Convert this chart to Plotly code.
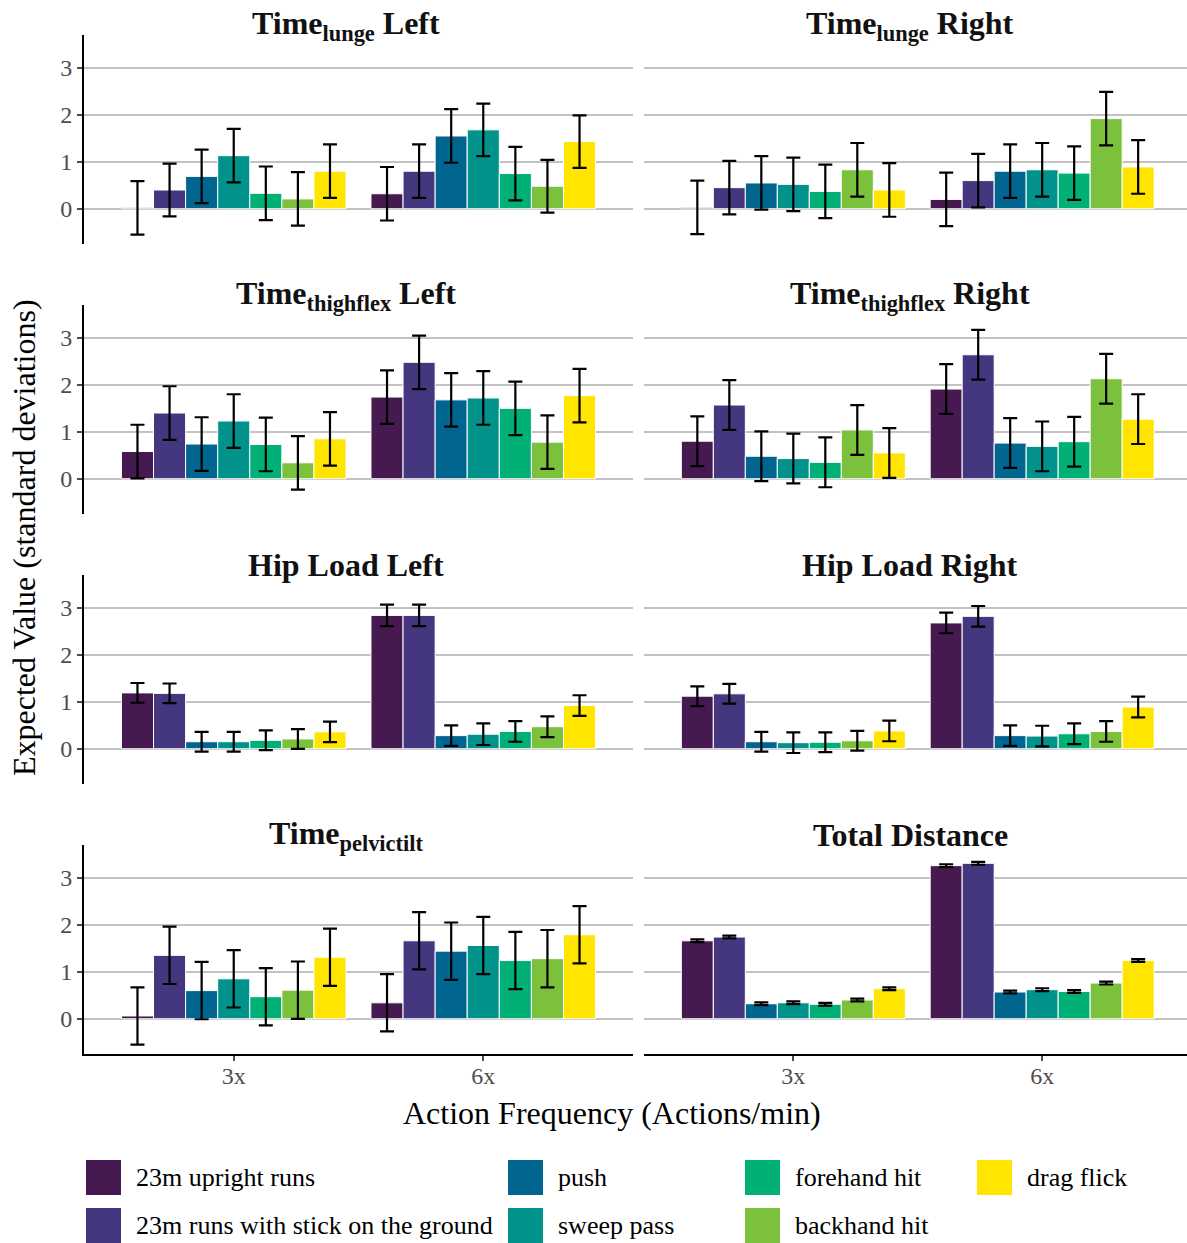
import plotly.graph_objects as go
from plotly.subplots import make_subplots

W, H = 1187, 1243

series = ["23m upright runs", "23m runs with stick on the ground", "push", "sweep pass",
          "forehand hit", "backhand hit", "drag flick"]
colors = ["#461A50", "#45377F", "#00668F", "#00928B", "#00B077", "#7CC13B", "#FFE500"]
freqs = ["3x", "6x"]

panel_titles = [
    "<b>Time<sub>lunge</sub> Left</b>", "<b>Time<sub>lunge</sub> Right</b>",
    "<b>Time<sub>thighflex</sub> Left</b>", "<b>Time<sub>thighflex</sub> Right</b>",
    "<b>Hip Load Left</b>", "<b>Hip Load Right</b>",
    "<b>Time<sub>pelvictilt</sub></b>", "<b>Total Distance</b>",
]
title_has_sub = [True, True, True, True, False, False, True, False]

# means and error half-widths per panel, ordered as in `series`
lunge_left_3x = [0.02, 0.40, 0.69, 1.13, 0.33, 0.21, 0.80]
lunge_left_6x = [0.32, 0.80, 1.55, 1.68, 0.75, 0.48, 1.43]
lunge_left_err3 = [0.57, 0.56, 0.57, 0.57, 0.57, 0.57, 0.57]
lunge_left_err6 = [0.57, 0.57, 0.57, 0.56, 0.57, 0.56, 0.56]

lunge_right_3x = [0.03, 0.45, 0.55, 0.52, 0.37, 0.83, 0.40]
lunge_right_6x = [0.20, 0.60, 0.80, 0.83, 0.76, 1.92, 0.89]
lunge_right_err3 = [0.57, 0.57, 0.57, 0.57, 0.57, 0.57, 0.57]
lunge_right_err6 = [0.57, 0.57, 0.57, 0.57, 0.57, 0.57, 0.57]

thigh_left_3x = [0.58, 1.40, 0.74, 1.23, 0.73, 0.34, 0.85]
thigh_left_6x = [1.74, 2.48, 1.68, 1.72, 1.50, 0.78, 1.77]
thigh_left_err3 = [0.57, 0.57, 0.57, 0.57, 0.57, 0.57, 0.57]
thigh_left_err6 = [0.57, 0.57, 0.57, 0.57, 0.57, 0.57, 0.57]

thigh_right_3x = [0.80, 1.57, 0.48, 0.43, 0.35, 1.04, 0.55]
thigh_right_6x = [1.91, 2.64, 0.76, 0.69, 0.79, 2.13, 1.27]
thigh_right_err3 = [0.53, 0.53, 0.53, 0.53, 0.53, 0.53, 0.53]
thigh_right_err6 = [0.53, 0.53, 0.53, 0.53, 0.53, 0.53, 0.53]

hip_left_3x = [1.19, 1.18, 0.15, 0.15, 0.18, 0.21, 0.36]
hip_left_6x = [2.84, 2.84, 0.28, 0.31, 0.37, 0.47, 0.92]
hip_left_err3 = [0.21, 0.21, 0.21, 0.21, 0.21, 0.21, 0.22]
hip_left_err6 = [0.23, 0.23, 0.22, 0.23, 0.22, 0.22, 0.22]

hip_right_3x = [1.12, 1.17, 0.15, 0.13, 0.14, 0.17, 0.38]
hip_right_6x = [2.68, 2.82, 0.28, 0.27, 0.32, 0.37, 0.89]
hip_right_err3 = [0.21, 0.21, 0.21, 0.22, 0.21, 0.21, 0.22]
hip_right_err6 = [0.22, 0.22, 0.22, 0.22, 0.22, 0.22, 0.22]

pelvic_3x = [0.06, 1.35, 0.60, 0.85, 0.47, 0.61, 1.31]
pelvic_6x = [0.34, 1.66, 1.44, 1.56, 1.24, 1.28, 1.79]
pelvic_err3 = [0.61, 0.61, 0.61, 0.61, 0.61, 0.61, 0.61]
pelvic_err6 = [0.61, 0.61, 0.61, 0.61, 0.61, 0.61, 0.61]

distance_3x = [1.66, 1.74, 0.32, 0.34, 0.31, 0.40, 0.64]
distance_6x = [3.26, 3.31, 0.57, 0.62, 0.58, 0.76, 1.24]
distance_err3 = [0.03, 0.03, 0.03, 0.03, 0.03, 0.03, 0.03]
distance_err6 = [0.03, 0.03, 0.03, 0.03, 0.03, 0.03, 0.03]

panels = [
    (lunge_left_3x, lunge_left_6x, lunge_left_err3, lunge_left_err6),
    (lunge_right_3x, lunge_right_6x, lunge_right_err3, lunge_right_err6),
    (thigh_left_3x, thigh_left_6x, thigh_left_err3, thigh_left_err6),
    (thigh_right_3x, thigh_right_6x, thigh_right_err3, thigh_right_err6),
    (hip_left_3x, hip_left_6x, hip_left_err3, hip_left_err6),
    (hip_right_3x, hip_right_6x, hip_right_err3, hip_right_err6),
    (pelvic_3x, pelvic_6x, pelvic_err3, pelvic_err6),
    (distance_3x, distance_6x, distance_err3, distance_err6),
]

FONT = "Liberation Serif"
GRID = "#C2C2C2"
TICK = "#4D4D4D"

fig = make_subplots(rows=4, cols=2)

for k, (m3, m6, e3, e6) in enumerate(panels):
    r, c = divmod(k, 2)
    for i, name in enumerate(series):
        fig.add_trace(go.Bar(
            x=freqs, y=[m3[i], m6[i]], name=name,
            marker=dict(color=colors[i], line=dict(color="white", width=1)),
            error_y=dict(type="data", array=[e3[i], e6[i]], color="black",
                         thickness=2.2, width=7),
            showlegend=False,
        ), row=r + 1, col=c + 1)

def px_x(p):
    return p / W

def px_y(p):
    return 1 - p / H

col_px = [(84, 633), (644, 1187)]
col_range = [[-0.6, 1.6], [-0.6, 1.582]]

layout = dict(
    width=W, height=H, margin=dict(l=0, r=0, t=0, b=0),
    plot_bgcolor="white", paper_bgcolor="white",
    barmode="group", bargap=0.1, bargroupgap=0,
    font=dict(family=FONT, color="black"),
)

for k in range(8):
    r, c = divmod(k, 2)
    top = 35 + 270 * r
    bot = 244 + 270 * r
    sfx = "" if k == 0 else str(k + 1)
    bottom_row = (r == 3)
    layout["xaxis" + sfx] = dict(
        domain=[px_x(col_px[c][0]), px_x(col_px[c][1])],
        range=col_range[c], type="category",
        showline=bottom_row, linecolor="black", linewidth=2,
        ticks="outside" if bottom_row else "", ticklen=5, tickcolor=TICK, tickwidth=1.5,
        showticklabels=bottom_row, ticklabelstandoff=-6,
        tickfont=dict(family=FONT, size=24, color=TICK),
        showgrid=False, zeroline=False, fixedrange=True,
    )
    layout["yaxis" + sfx] = dict(
        domain=[px_y(bot), px_y(top)],
        range=[-0.75, 3.70],
        tickvals=[0, 1, 2, 3], ticktext=["0", "1", "2", "3"],
        showgrid=True, gridcolor=GRID, gridwidth=2,
        zeroline=False,
        showline=(c == 0), linecolor="black", linewidth=2,
        ticks="outside" if c == 0 else "", ticklen=5, tickcolor=TICK, tickwidth=1.5,
        showticklabels=(c == 0),
        tickfont=dict(family=FONT, size=24, color=TICK),
        fixedrange=True,
    )

fig.update_layout(**layout)

annotations = []
title_cx = [346, 910]
for k, t in enumerate(panel_titles):
    r, c = divmod(k, 2)
    yb = 45 + 270 * r + (3 if title_has_sub[k] else 0)
    annotations.append(dict(
        text=t, x=px_x(title_cx[c]), y=px_y(yb), xref="paper", yref="paper",
        xanchor="center", yanchor="bottom", showarrow=False,
        font=dict(family=FONT, size=32, color="#111111"),
    ))

annotations.append(dict(
    text="Action Frequency (Actions/min)", x=px_x(612), y=px_y(1113),
    xref="paper", yref="paper", xanchor="center", yanchor="middle", showarrow=False,
    font=dict(family=FONT, size=32, color="black"),
))
annotations.append(dict(
    text="Expected Value (standard deviations)", x=px_x(24), y=px_y(538),
    xref="paper", yref="paper", xanchor="center", yanchor="middle", showarrow=False,
    textangle=-90, font=dict(family=FONT, size=32, color="black"),
))

# legend (column-major, 4 columns x 2 rows)
legend_cols = [0, 0, 1, 1, 2, 2, 3]
legend_rows = [0, 1, 0, 1, 0, 1, 0]
key_x = [86, 508, 745, 977]
key_y = [1160, 1208]
shapes = []
for i, name in enumerate(series):
    kx = key_x[legend_cols[i]]
    ky = key_y[legend_rows[i]]
    shapes.append(dict(
        type="rect", xref="paper", yref="paper",
        x0=px_x(kx), x1=px_x(kx + 35), y0=px_y(ky + 35), y1=px_y(ky),
        fillcolor=colors[i], line=dict(width=0),
    ))
    annotations.append(dict(
        text=name, x=px_x(kx + 48), y=px_y(ky + 17.5), xref="paper", yref="paper",
        xanchor="left", yanchor="middle", showarrow=False,
        font=dict(family=FONT, size=26, color="black"),
    ))

fig.update_layout(annotations=annotations, shapes=shapes)
fig.write_html("out.html", config={"displayModeBar": False},
               post_script="document.body.style.margin='0';document.body.style.overflow='hidden';")
